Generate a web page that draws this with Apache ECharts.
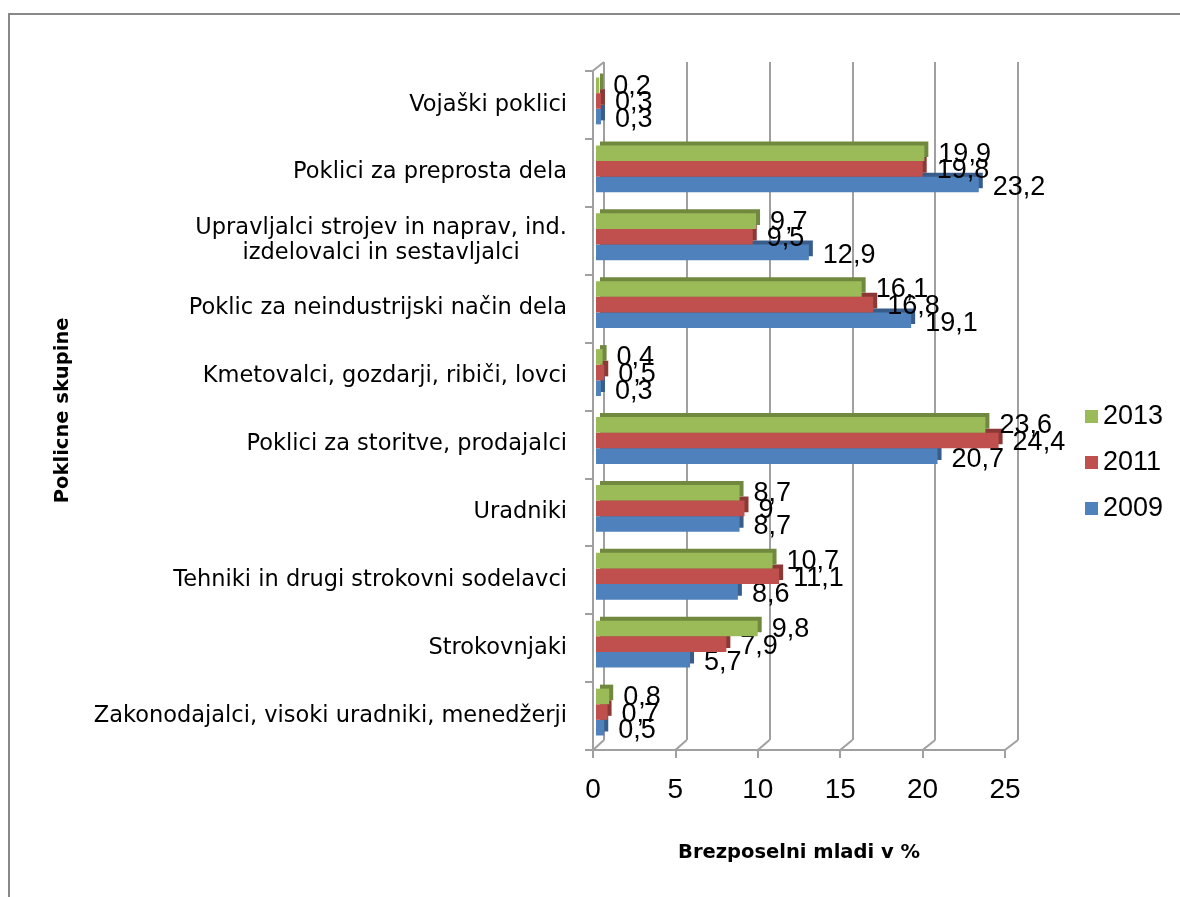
<!DOCTYPE html>
<html>
<head>
<meta charset="utf-8">
<script src="https://cdn.jsdelivr.net/npm/echarts@6/dist/echarts.min.js"></script>
<style>
  html, body { margin: 0; padding: 0; background: #fff; }
  #main { width: 1180px; height: 897px; }
</style>
</head>
<body>
<div id="main"></div>
<script>
// podatki
var categories = [
    'Zakonodajalci, visoki uradniki, menedžerji',
    'Strokovnjaki',
    'Tehniki in drugi strokovni sodelavci',
    'Uradniki',
    'Poklici za storitve, prodajalci',
    'Kmetovalci, gozdarji, ribiči, lovci',
    'Poklic za neindustrijski način dela',
    'Upravljalci strojev in naprav, ind.\nizdelovalci in sestavljalci',
    'Poklici za preprosta dela',
    'Vojaški poklici'
];
var v2009 = [0.5, 5.7, 8.6, 8.7, 20.7, 0.3, 19.1, 12.9, 23.2, 0.3];
var v2011 = [0.7, 7.9, 11.1, 9, 24.4, 0.5, 16.8, 9.5, 19.8, 0.3];
var v2013 = [0.8, 9.8, 10.7, 8.7, 23.6, 0.4, 16.1, 9.7, 19.9, 0.2];
var valueTicks = [0, 5, 10, 15, 20, 25];

var myChart = echarts.init(document.getElementById('main'));

var labelFont = 'Liberation Sans, Arial, sans-serif';
var textFont = 'DejaVu Sans, sans-serif';
var gridLine = '#a0a0a0';

function barSeries(name, data, color, side, dy, z) {
    return {
        name: name,
        type: 'bar',
        xAxisIndex: 0,
        yAxisIndex: 0,
        z: z,
        data: data,
        barGap: '0%',
        barCategoryGap: '31%',
        itemStyle: {
            color: color,
            shadowColor: side,
            shadowBlur: 0,
            shadowOffsetX: 4,
            shadowOffsetY: -4
        },
        label: {
            show: true,
            position: 'right',
            distance: 14,
            offset: [0, dy],
            color: '#000',
            fontSize: 27,
            fontFamily: labelFont,
            formatter: function (p) { return String(p.value).replace('.', ','); }
        }
    };
}

var option = {
    animation: false,
    backgroundColor: '#fff',
    legend: {
        orient: 'vertical',
        left: 1080,
        top: 398,
        itemWidth: 13,
        itemHeight: 13,
        itemGap: 19,
        icon: 'rect',
        data: ['2013', '2011', '2009'],
        itemStyle: { shadowColor: 'transparent', shadowOffsetX: 0, shadowOffsetY: 0 },
        textStyle: { fontSize: 27, color: '#000', fontFamily: labelFont }
    },
    grid: [
        // stolpci
        { left: 596, top: 67, width: 412.5, height: 679, outerBoundsMode: 'none' },
        // sprednji osi
        { left: 593, top: 70.7, width: 412, height: 679.3, outerBoundsMode: 'none' },
        // zadnja stena z mrežo
        { left: 604, top: 62, width: 414, height: 678, outerBoundsMode: 'none' }
    ],
    xAxis: [
        { gridIndex: 0, type: 'value', min: 0, max: 25, show: false },
        {
            gridIndex: 1, type: 'value', min: 0, max: 25, interval: 5,
            axisLine: { show: true, lineStyle: { color: gridLine, width: 2 } },
            axisTick: { show: true, length: 8, lineStyle: { color: gridLine, width: 2 } },
            splitLine: { show: false },
            axisLabel: { margin: 26, fontSize: 28, color: '#000', fontFamily: labelFont },
            name: 'Brezposelni mladi v %',
            nameLocation: 'middle',
            nameGap: 93,
            nameTextStyle: { fontSize: 19.5, color: '#000', fontWeight: 'bold', fontFamily: textFont }
        },
        {
            gridIndex: 2, type: 'value', min: 0, max: 25, interval: 5,
            axisLine: { show: false }, axisTick: { show: false }, axisLabel: { show: false },
            splitLine: { show: true, lineStyle: { color: gridLine, width: 2 } }
        }
    ],
    yAxis: [
        { gridIndex: 0, type: 'category', data: categories, show: false },
        {
            gridIndex: 1, type: 'category', data: categories,
            axisLine: { show: true, lineStyle: { color: gridLine, width: 2 } },
            axisTick: { show: true, length: 8, lineStyle: { color: gridLine, width: 2 } },
            axisLabel: {
                margin: 26,
                formatter: function (v) {
                    return v.split('\n').map(function (l) { return '{c|' + l + '}'; }).join('\n');
                },
                rich: {
                    c: { align: 'center', fontSize: 22.5, lineHeight: 25, color: '#000', fontFamily: textFont }
                }
            },
            name: 'Poklicne skupine',
            nameLocation: 'middle',
            nameGap: 520,
            nameRotate: 90,
            nameTextStyle: { fontSize: 19.5, color: '#000', fontWeight: 'bold', fontFamily: textFont }
        },
        { gridIndex: 2, type: 'category', data: categories, show: false }
    ],
    series: [
        barSeries('2013', v2013, '#9bbb59', '#71893f', 1, 4),
        barSeries('2011', v2011, '#c0504d', '#8c3836', 2, 3),
        barSeries('2009', v2009, '#4f81bd', '#385d8a', 3, 2)
    ]
};

myChart.setOption(option);

// okvir in poševne črte tal (3D videz)
var lines = [];
var gx1 = myChart.getModel().getComponent('grid', 1).coordinateSystem.getRect();
var gx2 = myChart.getModel().getComponent('grid', 2).coordinateSystem.getRect();
valueTicks.forEach(function (t) {
    var xf = myChart.convertToPixel({ xAxisIndex: 1 }, t);
    var xb = myChart.convertToPixel({ xAxisIndex: 2 }, t);
    lines.push({
        type: 'line', silent: true,
        shape: { x1: xf, y1: gx1.y + gx1.height, x2: xb, y2: gx2.y + gx2.height },
        style: { stroke: gridLine, lineWidth: 2 }
    });
});
lines.push({
    type: 'line', silent: true,
    shape: { x1: gx1.x, y1: gx1.y, x2: gx2.x, y2: gx2.y },
    style: { stroke: gridLine, lineWidth: 2 }
});
lines.push({
    type: 'polyline', silent: true,
    shape: { points: [[9, 900], [9, 14], [1185, 14]] },
    style: { stroke: '#888', lineWidth: 2, fill: null }
});
myChart.setOption({ graphic: lines });
</script>
</body>
</html>
